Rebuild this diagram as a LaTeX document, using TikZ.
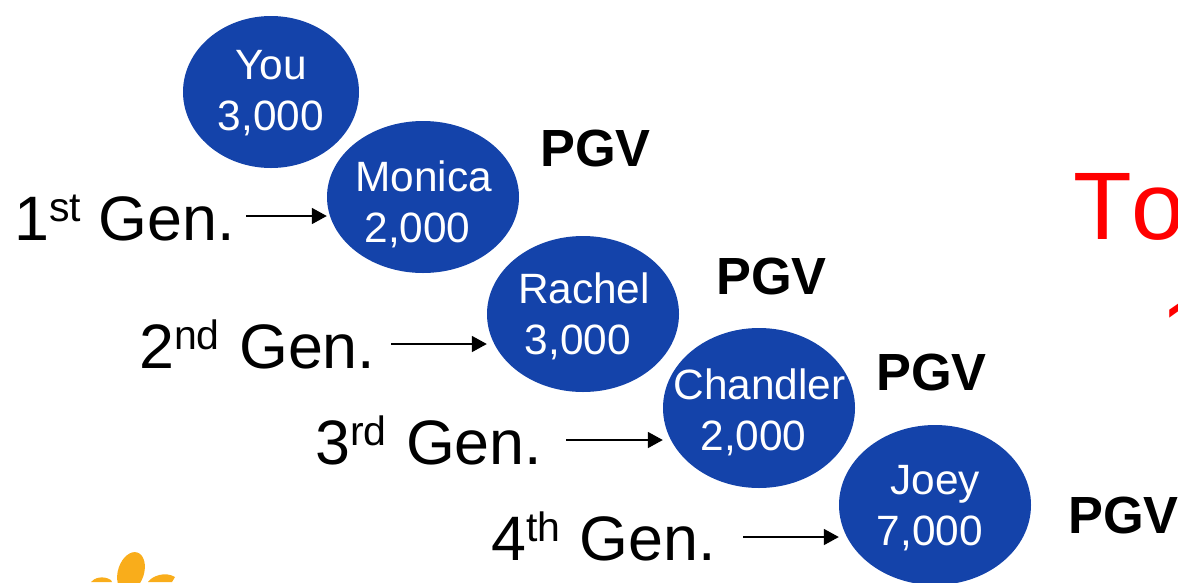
\documentclass[tikz,border=0pt]{standalone}
\usepackage{fontspec}
\setmainfont{Liberation Sans}
\usetikzlibrary{shapes.geometric,arrows.meta}
\definecolor{discblue}{HTML}{1443AA}
\definecolor{logoorange}{HTML}{F9AD1B}
\newcommand{\genlabel}[3]{#1\raisebox{19pt}{\fontsize{41}{41}\selectfont #2}\hspace{#3} Gen.}
\tikzset{
  disc/.style={ellipse,fill=discblue,inner sep=0pt,minimum width=192pt,minimum height=#1},
  disc/.default=152pt,
  disctext/.style={inner sep=0pt,text=white,align=center,font=\fontsize{42.4}{51}\selectfont},
  gen/.style={inner sep=0pt,anchor=base west,font=\fontsize{62.8}{62}\selectfont},
  pgv/.style={inner sep=0pt,anchor=base west,font=\bfseries\fontsize{52.3}{52}\selectfont},
  bigred/.style={inner sep=0pt,anchor=base west,text=red,font=\fontsize{96}{96}\selectfont},
  conn/.style={line width=1.8pt,-{Triangle[length=15pt,width=16pt]}},
  logo/.style={fill=logoorange,draw=none}
}
\begin{document}
\begin{tikzpicture}[x=1pt,y=-1pt]
\useasboundingbox (0,0) rectangle (1178,582);
\clip (0,0) rectangle (1178,582);
\node[disc,minimum width=176pt] (you) at (271,92) {};
\node[disc] (monica) at (423,197) {};
\node[disc,minimum height=156pt] (rachel) at (583,314) {};
\node[disc,minimum height=160pt] (chandler) at (759,408) {};
\node[disc,minimum height=160pt] (joey) at (935,505) {};
\node[disctext] (youtext) at (271,93) {You\\3,000};
\node[disctext] (monicatext) at (423.5,204) {Monica\\2,000\hspace*{12pt}};
\node[disctext] (racheltext) at (584,316) {Rachel\\3,000\hspace*{12pt}};
\node[disctext] (chandlertext) at (759.5,412) {Chandler\\2,000\hspace*{12pt}};
\node[disctext] (joeytext) at (935,508) {Joey\\7,000\hspace*{10pt}};
\node[gen] (gen1) at (14,240) {\genlabel{1}{st}{0pt}};
\node[gen] (gen2) at (139,368) {\genlabel{2}{nd}{2pt}};
\node[gen] (gen3) at (315,464) {\genlabel{3}{rd}{2pt}};
\node[gen] (gen4) at (491,560) {\genlabel{4}{th}{2pt}};
\coordinate (a1) at (246,216);
\coordinate (a2) at (391,344);
\coordinate (a3) at (566,440);
\coordinate (a4) at (743,537);
\draw[conn] (a1) -- (a1 -| monica.west);
\draw[conn] (a2) -- (a2 -| rachel.west);
\draw[conn] (a3) -- (a3 -| chandler.west);
\draw[conn] (a4) -- (a4 -| joey.west);
\node[pgv] (pgv1) at (540,166) {PGV};
\node[pgv] (pgv2) at (716,294) {PGV};
\node[pgv] (pgv3) at (876,390) {PGV};
\node[pgv] (pgv4) at (1068,533) {PGV};
\node[bigred] (to) at (1073,239) {T\hspace{0pt}o};
\begin{scope}
\clip (1160,280) rectangle (1178,330);
\node[bigred] (one) at (1160,365) {1};
\end{scope}
\fill[logo,rotate around={-18:(131,572)}] (131,572) ellipse (13pt and 20.5pt);
\fill[logo] (91,582) .. controls (94,578) and (103,575) .. (111,580) -- (112,582) -- cycle;
\fill[logo] (148,582) .. controls (152,576) and (165,571) .. (175,577) -- (172,582) -- cycle;
\end{tikzpicture}
\end{document}
